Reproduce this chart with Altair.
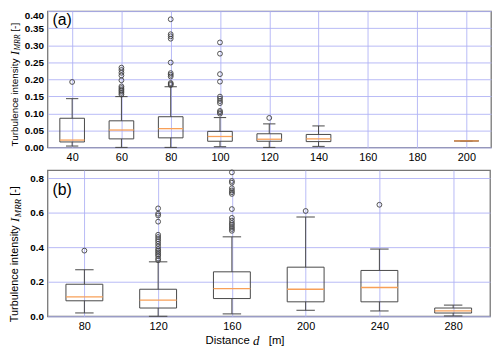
import altair as alt
import pandas as pd

# ---------------- panel (a) ----------------
pos_a = [40, 60, 80, 100, 120, 140, 200]
q1_a = [0.016, 0.025, 0.028, 0.018, 0.018, 0.017, 0.019]
med_a = [0.0215, 0.051, 0.055, 0.032, 0.024, 0.025, 0.019]
q3_a = [0.0855, 0.078, 0.090, 0.047, 0.040, 0.038, 0.019]
wlo_a = [0.004, 0.0, 0.0, 0.002, 0.0, 0.003, 0.019]
whi_a = [0.143, 0.149, 0.178, 0.0875, 0.069, 0.063, 0.019]
out_pos_a = [40] + [60] * 11 + [80] * 11 + [100] * 11 + [120]
out_val_a = [0.192,
             0.234, 0.227, 0.219, 0.211, 0.197, 0.179, 0.174, 0.169, 0.165, 0.160, 0.155,
             0.376, 0.332, 0.326, 0.319, 0.249, 0.218, 0.213, 0.208, 0.189, 0.186, 0.183,
             0.308, 0.275, 0.215, 0.193, 0.149, 0.143, 0.136, 0.130, 0.107, 0.103, 0.099,
             0.0865]
xticks_a = [40, 60, 80, 100, 120, 140, 160, 180, 200]
yticks_a = [0.0, 0.05, 0.10, 0.15, 0.20, 0.25, 0.30, 0.35, 0.40]

# ---------------- panel (b) ----------------
pos_b = [80, 120, 160, 200, 240, 280]
q1_b = [0.090, 0.048, 0.103, 0.084, 0.084, 0.019]
med_b = [0.113, 0.094, 0.161, 0.157, 0.167, 0.031]
q3_b = [0.186, 0.157, 0.258, 0.285, 0.266, 0.048]
wlo_b = [0.0195, 0.0, 0.014, 0.035, 0.031, 0.002]
whi_b = [0.270, 0.316, 0.461, 0.576, 0.390, 0.065]
out_pos_b = [80] + [120] * 17 + [160] * 15 + [200] + [240]
out_val_b = [0.381,
             0.626, 0.595, 0.585, 0.549, 0.473, 0.460, 0.447, 0.435, 0.420, 0.405, 0.390,
             0.380, 0.370, 0.360, 0.350, 0.335, 0.325,
             0.835, 0.785, 0.775, 0.743, 0.730, 0.720, 0.710, 0.622, 0.571, 0.555, 0.541,
             0.530, 0.518, 0.507, 0.496,
             0.611,
             0.647]
xticks_b = [80, 120, 160, 200, 240, 280]
yticks_b = [0.0, 0.2, 0.4, 0.6, 0.8]

SANS = "Liberation Sans, Arial, sans-serif"
SERIF = "Liberation Serif, Times New Roman, serif"
BOXC = "#474747"
MEDC = "#f8a058"
GRIDC = "#b0b2f5"


def txt(s, x, y, size, font=SANS, style="normal", angle=0, align="left", weight="normal"):
    return alt.Chart(pd.DataFrame({"t": [s]})).mark_text(
        font=font, fontSize=size, fontStyle=style, fontWeight=weight, angle=angle,
        align=align, baseline="middle", color="black"
    ).encode(text="t:N", x=alt.value(x), y=alt.value(y))


def panel(pos, q1, med, q3, wlo, whi, opos, oval, bw, xdom, xticks, ydom, yticks,
          yfmt, W, H, extra, top_test):
    box = pd.DataFrame({"pos": pos, "q1": q1, "med": med, "q3": q3, "wlo": wlo, "whi": whi})
    outl = pd.DataFrame({"pos": opos, "val": oval})
    xs = alt.Scale(domain=xdom, nice=False, zero=False)
    ys = alt.Scale(domain=ydom, nice=False, zero=False)
    xax = alt.Axis(values=xticks, title=None, grid=True, labelFontSize=11,
                   labelPadding=4, format="d", labelOverlap=False, tickCount=len(xticks))
    yax = alt.Axis(values=yticks, title=None, grid=True, labelFontSize=10,
                   labelFontWeight="bold", labelPadding=4, format=yfmt,
                   labelOverlap=False, tickCount=len(yticks),
                   labelBaseline={"condition": {"test": top_test, "value": "top"},
                                  "value": "middle"})

    def X(f):
        return alt.X(f, scale=xs, axis=xax)

    def Y(f):
        return alt.Y(f, scale=ys, axis=yax)

    base = alt.Chart(box).transform_calculate(
        lo=f"datum.pos - {bw / 2}", hi=f"datum.pos + {bw / 2}",
        clo=f"datum.pos - {bw / 4}", chi=f"datum.pos + {bw / 4}")

    rect = base.mark_rect(fill="transparent", stroke=BOXC, strokeWidth=1).encode(
        x=X("lo:Q"), x2="hi:Q", y=Y("q1:Q"), y2="q3:Q")
    wup = base.mark_rule(color=BOXC, strokeWidth=1).encode(x=X("pos:Q"), y=Y("q3:Q"), y2="whi:Q")
    wdn = base.mark_rule(color=BOXC, strokeWidth=1).encode(x=X("pos:Q"), y=Y("q1:Q"), y2="wlo:Q")
    cup = base.mark_rule(color=BOXC, strokeWidth=1).encode(x=X("clo:Q"), x2="chi:Q", y=Y("whi:Q"))
    cdn = base.mark_rule(color=BOXC, strokeWidth=1).encode(x=X("clo:Q"), x2="chi:Q", y=Y("wlo:Q"))
    medr = base.mark_rule(color=MEDC, strokeWidth=1.3).encode(x=X("lo:Q"), x2="hi:Q", y=Y("med:Q"))
    pts = alt.Chart(outl).mark_point(shape="circle", filled=False, size=24, color="#404040",
                                     strokeWidth=0.9, opacity=1).encode(
        x=X("pos:Q"), y=Y("val:Q"))

    layers = [rect, wup, wdn, cup, cdn, medr, pts] + extra
    return alt.layer(*layers).properties(width=W, height=H)


Ha = 138
Hb = 148
extra_a = [
    txt("Turbulence intensity", -33, Ha - 1, 10, angle=270),
    txt("I", -33, Ha - 1 - 92.5, 12, font=SERIF, style="italic", angle=270),
    txt("MRR", -30, Ha - 1 - 97, 8, font=SERIF, style="italic", angle=270),
    txt("[-]", -33, Ha - 1 - 116.2, 10, angle=270),
    txt("(a)", 5, 9, 16),
]
extra_b = [
    txt("Turbulence intensity", -33, Hb + 6, 11, angle=270),
    txt("I", -33, Hb + 6 - 101.5, 13, font=SERIF, style="italic", angle=270),
    txt("MRR", -29.5, Hb + 6 - 106.3, 9, font=SERIF, style="italic", angle=270),
    txt("[-]", -33, Hb + 6 - 128, 11, angle=270),
    txt("(b)", 5, 20, 16),
    txt("Distance", 160, Hb + 25, 11.5),
    txt("d", 208, Hb + 25, 13, font=SERIF, style="italic"),
    txt("[m]", 224, Hb + 25, 11.5),
]

top = panel(pos_a, q1_a, med_a, q3_a, wlo_a, whi_a, out_pos_a, out_val_a, 10,
            [30, 210], xticks_a, [0, 0.40], yticks_a, ".2f", 449, Ha, extra_a,
            "datum.value > 0.399")
bot = panel(pos_b, q1_b, med_b, q3_b, wlo_b, whi_b, out_pos_b, out_val_b, 20,
            [60, 300], xticks_b, [0, 0.848], yticks_b, ".1f", 448, Hb, extra_b,
            "datum.value > 5")

chart = alt.vconcat(top, bot, spacing=4).properties(
    padding={"left": 0, "top": 0, "right": 0, "bottom": 0}
).configure_view(stroke="#777777", strokeWidth=1.3).configure_axis(
    domain=False, ticks=False, gridColor=GRIDC, gridWidth=0.9, gridOpacity=1,
    labelFont=SANS, labelColor="black"
)

chart.save("out.html", embed_options={"renderer": "svg", "actions": False})
